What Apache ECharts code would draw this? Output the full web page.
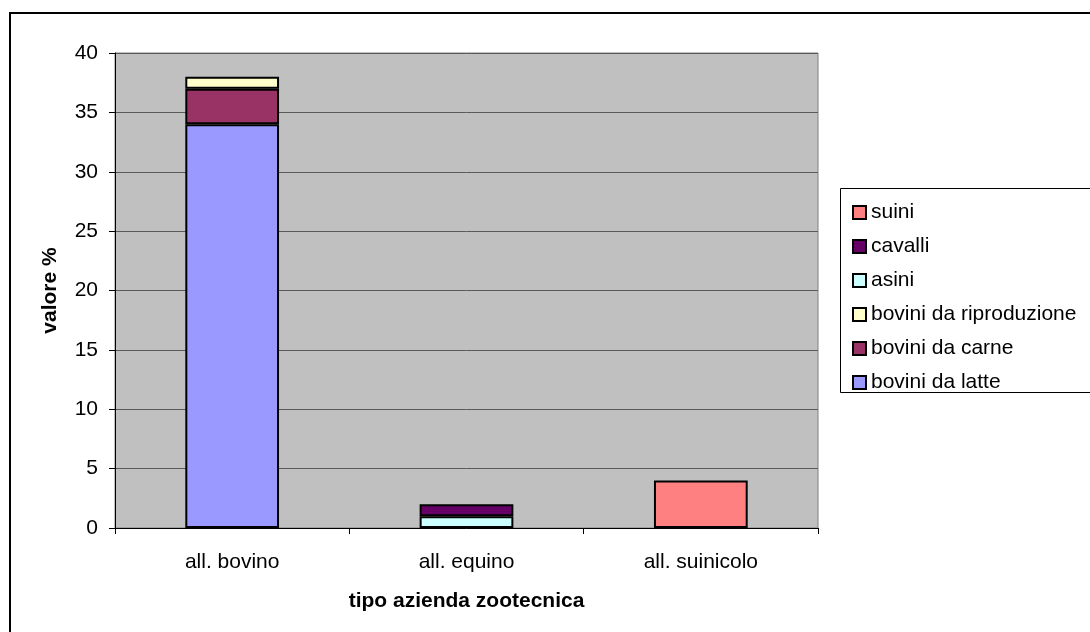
<!DOCTYPE html>
<html>
<head>
<meta charset="utf-8">
<script src="https://cdn.jsdelivr.net/npm/echarts@6/dist/echarts.min.js"></script>
<style>
html,body{margin:0;padding:0;background:#fff;}
#c{width:1090px;height:632px;}
</style>
</head>
<body>
<div id="c"></div>
<script>
var categories = ['all. bovino', 'all. equino', 'all. suinicolo'];
var bovLatte = [34, '-', '-'];
var bovCarne = [3, '-', '-'];
var bovRiproduzione = [1, '-', '-'];
var asini = ['-', 1, '-'];
var cavalli = ['-', 1, '-'];
var suini = ['-', '-', 4];
var legendOrder = ['suini', 'cavalli', 'asini', 'bovini da riproduzione', 'bovini da carne', 'bovini da latte'];

var FONT = '"Liberation Sans", Arial, sans-serif';
var FS = 21;
function mk(name, data, color) {
  return {
    name: name, type: 'bar', stack: 'tot', data: data, barWidth: '40%',
    itemStyle: { color: color, borderColor: '#000', borderWidth: 2 },
    emphasis: { disabled: true }
  };
}
var chart = echarts.init(document.getElementById('c'));
chart.setOption({
  animation: false,
  backgroundColor: '#fff',
  textStyle: { fontFamily: FONT },
  graphic: [
    { type: 'rect', z: -10, shape: { x: 10, y: 13, width: 1200, height: 800 },
      style: { fill: '#fff', stroke: '#000', lineWidth: 2 } },
    { type: 'rect', z: 0, shape: { x: 840.5, y: 188.5, width: 300, height: 204 },
      style: { fill: '#fff', stroke: '#000', lineWidth: 1 } }
  ],
  grid: {
    left: 115, top: 53, right: 272, bottom: 104,
    show: true, backgroundColor: '#C0C0C0', borderColor: '#808080', borderWidth: 1
  },
  legend: {
    orient: 'vertical', left: 847, top: 197,
    itemWidth: 13, itemHeight: 13, itemGap: 13,
    data: legendOrder,
    icon: 'rect',
    itemStyle: { borderColor: '#000', borderWidth: 2 },
    textStyle: { fontFamily: FONT, fontSize: FS, color: '#000', lineHeight: 21 },
    z: 5
  },
  xAxis: {
    type: 'category', data: categories,
    name: 'tipo azienda zootecnica', nameLocation: 'middle', nameGap: 63,
    nameTextStyle: { fontFamily: FONT, fontSize: FS, fontWeight: 'bold', color: '#000' },
    axisLine: { lineStyle: { color: '#000', width: 1 } },
    axisTick: { show: true, length: 6, lineStyle: { color: '#000' } },
    axisLabel: { fontFamily: FONT, fontSize: FS, color: '#000', margin: 24 }
  },
  yAxis: {
    type: 'value', min: 0, max: 40, interval: 5,
    name: 'valore %', nameLocation: 'middle', nameGap: 54,
    nameTextStyle: { fontFamily: FONT, fontSize: FS, fontWeight: 'bold', color: '#000' },
    axisLine: { show: true, lineStyle: { color: '#000', width: 1 } },
    axisTick: { show: true, length: 6, lineStyle: { color: '#000' } },
    axisLabel: { fontFamily: FONT, fontSize: FS, color: '#000', margin: 17 },
    splitLine: { show: true, lineStyle: { color: '#5a5a5a', width: 1 } }
  },
  series: [
    mk('bovini da latte', bovLatte, '#9999FF'),
    mk('bovini da carne', bovCarne, '#993366'),
    mk('bovini da riproduzione', bovRiproduzione, '#FFFFCC'),
    mk('asini', asini, '#CCFFFF'),
    mk('cavalli', cavalli, '#660066'),
    mk('suini', suini, '#FF8080')
  ]
});
</script>
</body>
</html>
